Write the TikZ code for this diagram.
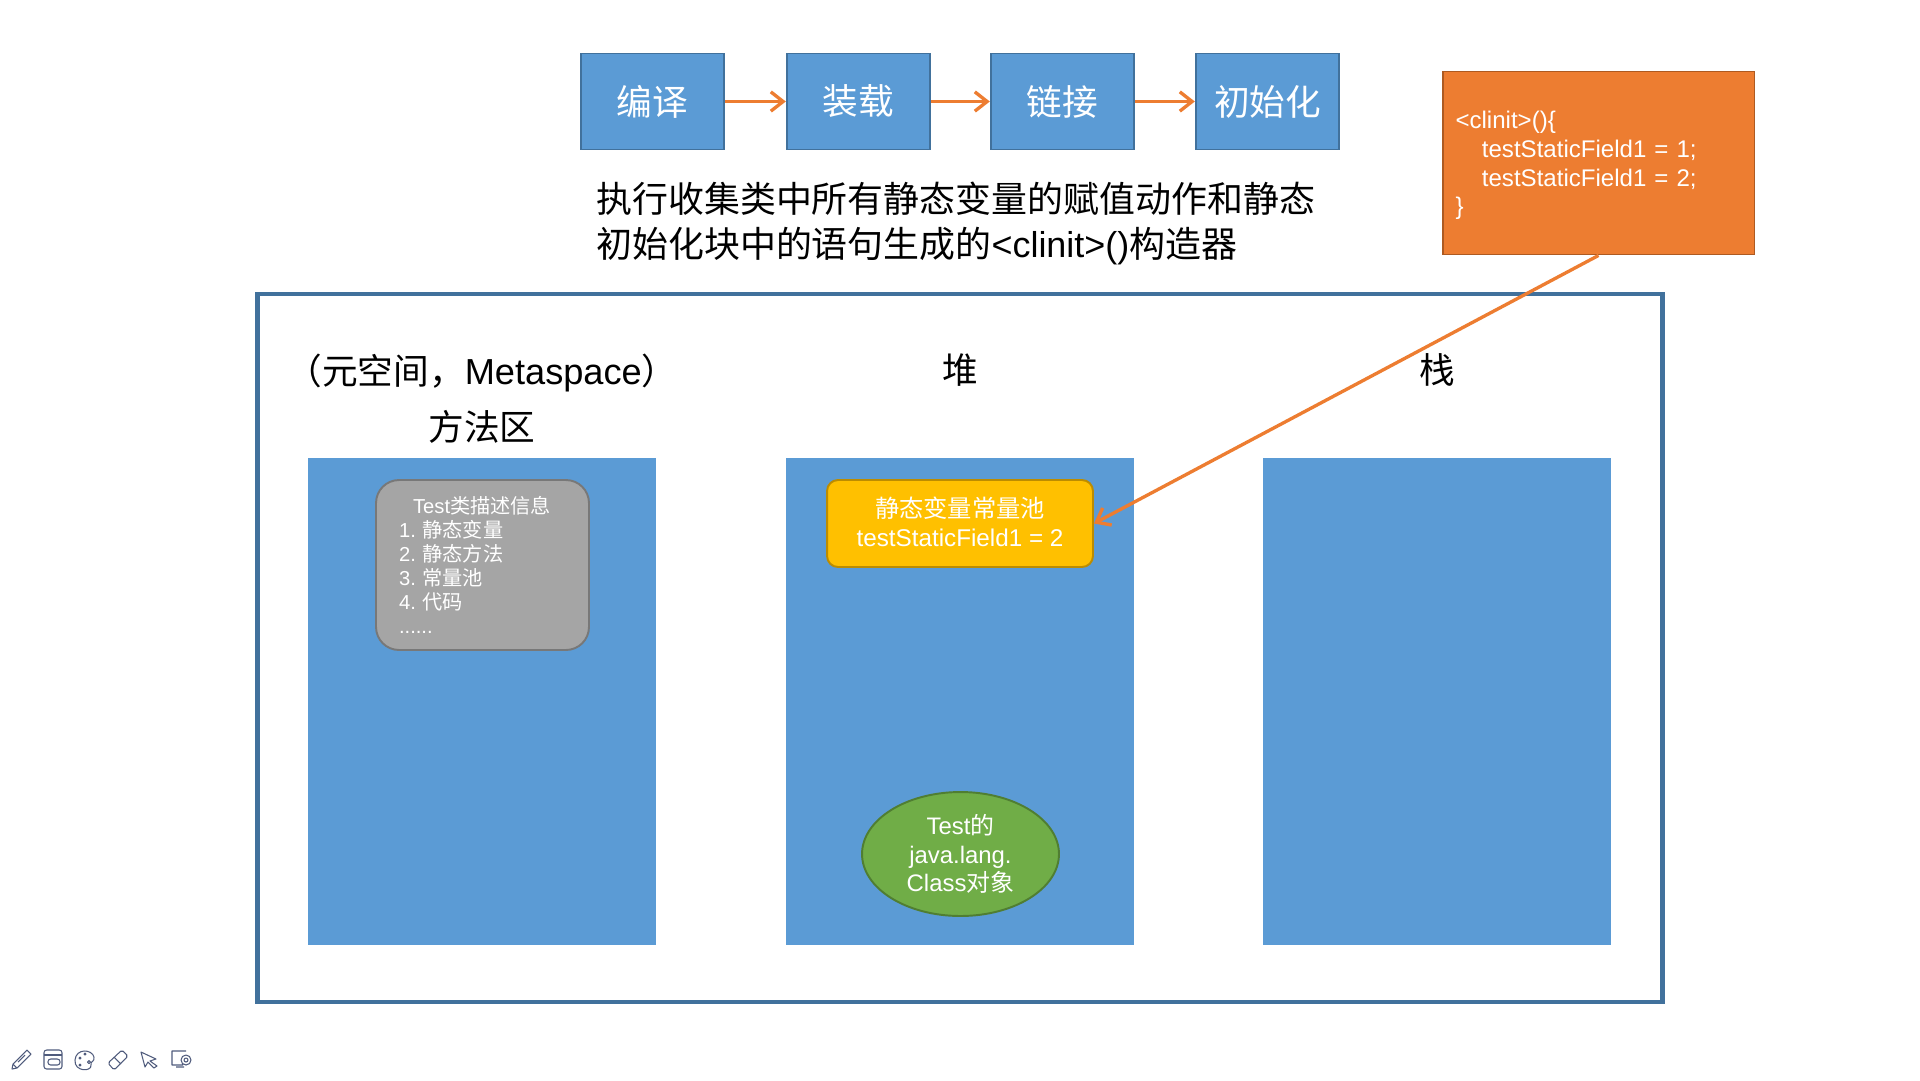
\documentclass[tikz,border=0pt]{standalone}
\usepackage{fontspec}
\setmainfont{Liberation Sans}
\newfontfamily\cjk{Noto Sans CJK SC}
\usetikzlibrary{arrows.meta, shapes.geometric}
\newcommand{\zh}[1]{{\cjk #1}}
\definecolor{panelblue}{HTML}{5B9BD5}
\definecolor{edgeblue}{HTML}{41719C}
\definecolor{flame}{HTML}{ED7D31}
\definecolor{flameedge}{HTML}{AE5A21}
\definecolor{amber}{HTML}{FFC000}
\definecolor{amberedge}{HTML}{BC8C00}
\definecolor{leaf}{HTML}{70AD47}
\definecolor{leafedge}{HTML}{507E32}
\definecolor{stone}{HTML}{A5A5A5}
\definecolor{stoneedge}{HTML}{787878}
\definecolor{toolink}{HTML}{4F5B7C}
\tikzset{
	stage/.style = {draw = edgeblue, line width = 1.1pt, fill = panelblue, text = white, minimum width = 2.87cm, minimum height = 1.92cm, inner sep = 0pt, font = \fontsize{20.3}{24}\cjk},
	panel/.style = {fill = panelblue, minimum width = 6.96cm, minimum height = 9.74cm, inner sep = 0pt},
	heading/.style = {font = \fontsize{20.3}{25}\selectfont\cjk, align = center, inner sep = 0pt},
	flow/.style = {draw = flame, line width = 1.9pt, -{Straight Barb[length = 7pt, width = 11pt]}},
	tool/.style = {draw = toolink, line width = 0.6pt, line join = round}
}

\begin{document}
\begin{tikzpicture}[x = 0.02cm, y = -0.02cm]
	
	\useasboundingbox (0, 0) rectangle (1920, 1080);
	
	\node[stage] (compile) at (652.5, 101.5) {编译};
	\node[stage] (load) at (858.5, 101.5) {装载};
	\node[stage] (link) at (1062.5, 101.5) {链接};
	\node[stage] (init) at (1267.5, 101.5) {初始化};
	
	\node[anchor = west, align = left, inner sep = 0pt, font = \fontsize{20.45}{25.7}\selectfont] (note) at (596, 223.5) {\zh{执行收集类中所有静态变量的赋值动作和静态}\\\zh{初始化块中的语句生成的}<clinit>()\zh{构造器}};
	
	\node[draw = flameedge, line width = 1.1pt, fill = flame, text = white, minimum width = 6.24cm, minimum height = 3.66cm, inner xsep = 0.26cm, inner ysep = 0pt, text width = 5.72cm, align = left, font = \fontsize{13.7}{16.3}\selectfont] (code) at (1598.5, 163) {\rule{0pt}{12.8pt}<clinit>()\{\\\hspace*{15pt}testStaticField1 = 1;\\\hspace*{15pt}testStaticField1 = 2;\\\}};
	
	\node[draw = edgeblue, line width = 2.6pt, minimum width = 28.1cm, minimum height = 14.16cm, inner sep = 0pt] (memory) at (960, 648) {};
	
	\node[heading] (methodtitle) at (482, 399) {（元空间，{\rmfamily\fontsize{20.6}{25}\selectfont Metaspace}）\\[7pt]方法区};
	\node[heading] (heaptitle) at (960.5, 370) {堆};
	\node[heading] (stacktitle) at (1437.5, 370) {栈};
	
	\node[panel] (method) at (482, 701.5) {};
	\node[panel] (heap) at (960, 701.5) {};
	\node[panel] (stack) at (1437, 701.5) {};
	
	\node[draw = stoneedge, line width = 1.1pt, fill = stone, text = white, rounded corners = 0.46cm, minimum width = 4.26cm, minimum height = 3.4cm, inner xsep = 0.46cm, inner ysep = 0pt, text width = 3.34cm, align = left, font = \fontsize{11.5}{13.6}\selectfont] (classinfo) at (482.5, 565) {\hspace*{8pt}Test\zh{类描述信息}\\1.\hspace{3.8pt}\zh{静态变量}\\2.\hspace{3.8pt}\zh{静态方法}\\3.\hspace{3.8pt}\zh{常量池}\\4.\hspace{3.8pt}\zh{代码}\\......};
	
	\node[draw = amberedge, line width = 1.1pt, fill = amber, text = white, rounded corners = 0.22cm, minimum width = 5.32cm, minimum height = 1.74cm, inner sep = 0pt, align = center, font = \fontsize{13.8}{17}\selectfont] (pool) at (960, 523.5) {\zh{静态变量常量池}\\testStaticField1 = 2\rule[-2pt]{0pt}{2pt}};
	
	\node[ellipse, draw = leafedge, line width = 1.1pt, fill = leaf, text = white, minimum width = 3.94cm, minimum height = 2.48cm, inner sep = 0pt, align = center, font = \fontsize{13.6}{16.3}\selectfont] (mirror) at (960.5, 854) {Test\zh{的}\\java.lang.\\Class\zh{对象}};
	
	\path (compile) edge[flow] (load);
	\path (load) edge[flow] (link);
	\path (link) edge[flow] (init);
	\path (code.south) edge[flow] (pool.east);
	
	\draw[tool] (13, 1064) -- (27, 1050) -- (31, 1054) -- (17, 1068) -- (12, 1069) -- cycle (13, 1064) -- (17, 1068) (18, 1062) -- (25, 1055);
	\draw[tool, rounded corners = 1.5pt] (44, 1050) rectangle (62, 1069) (48, 1059) rectangle (60, 1065);
	\draw[tool] (44, 1055) -- (62, 1055);
	\draw[tool] (94, 1057) .. controls (92, 1049) and (76, 1048) .. (75, 1060) .. controls (74, 1072) and (92, 1072) .. (91, 1065) .. controls (90, 1061) and (95, 1062) .. (94, 1057);
	\draw[tool] (80, 1058) circle (1) (85, 1054) circle (1) (89, 1062) circle (1.5) (80, 1065) circle (1);
	\draw[tool, rounded corners = 1pt] (108, 1063) -- (122, 1050) -- (128, 1056) -- (114, 1070) -- cycle (114, 1057) -- (121, 1064);
	\draw[tool] (141, 1052) -- (156, 1059) -- (150, 1061) -- (157, 1066) -- (154, 1068) -- (148, 1062) -- (145, 1067) -- cycle;
	\draw[tool] (186, 1051) -- (172, 1051) -- (172, 1065) -- (183, 1065) (186, 1060) circle (5) (186, 1060) circle (2) (176, 1067) -- (184, 1067);
	
\end{tikzpicture}
\end{document}
